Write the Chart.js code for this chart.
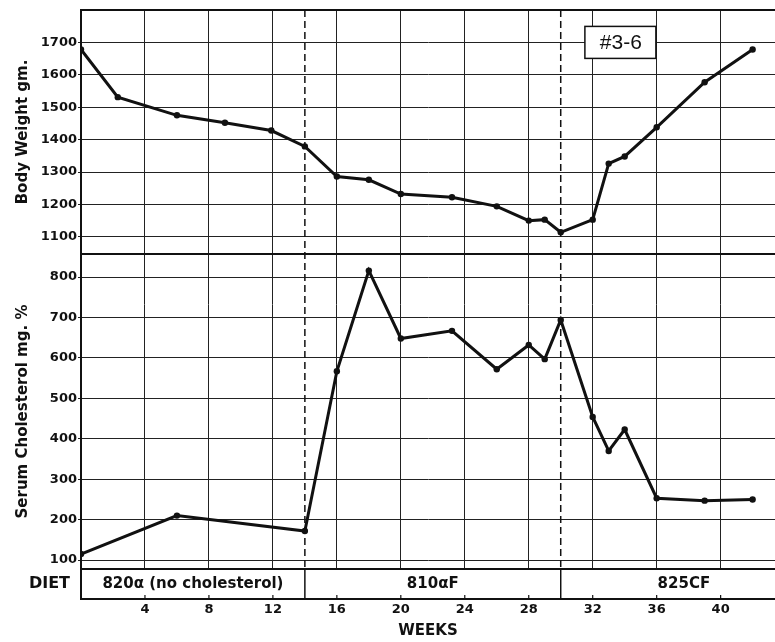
<!DOCTYPE html>
<html>
<head>
<meta charset="utf-8">
<script src="https://cdn.jsdelivr.net/npm/chart.js@4.4.0/dist/chart.umd.min.js"></script>
<style>
  html, body { margin: 0; padding: 0; background: #fff; }
  #wrap { width: 775px; height: 642px; }
</style>
</head>
<body>
<div id="wrap"><canvas id="chart-weight-cholesterol" width="775" height="642"></canvas></div>
<script>
// data (weeks on x)
const weightWeeks = [0, 2.3, 6, 9, 11.9, 14, 16, 18, 20, 23.2, 26, 28, 29, 30, 32, 33, 34, 36, 39, 42];
const weightValues = [1678, 1531, 1475, 1452, 1428, 1379, 1286, 1276, 1232, 1222, 1194, 1150, 1153, 1114, 1153, 1326, 1348, 1438, 1577, 1678];

const cholWeeks = [0, 6, 14, 16, 18, 20, 23.2, 26, 28, 29, 30, 32, 33, 34, 36, 39, 42];
const cholValues = [115, 210, 172, 567, 816, 648, 667, 572, 632, 597, 694, 454, 370, 423, 253, 247, 250];

const weekTicks = [4, 8, 12, 16, 20, 24, 28, 32, 36, 40];
const weightTicks = [1100, 1200, 1300, 1400, 1500, 1600, 1700];
const cholTicks = [100, 200, 300, 400, 500, 600, 700, 800];

// diet periods
const dietNames = ["820α (no cholesterol)", "810αF", "825CF"];
const dietStart = [0, 14, 30];
const dietEnd = [14, 30, 45.4];

const animalLabel = "#3-6";

Chart.defaults.font.family = "'DejaVu Sans', sans-serif";
Chart.defaults.color = "#111";

const ink = "#111";
const gridInk = "#222";

function toPoints(xs, ys) {
  return xs.map((w, i) => ({ x: w, y: ys[i] }));
}

function line(ctx, x1, y1, x2, y2) {
  ctx.beginPath();
  ctx.moveTo(x1, y1);
  ctx.lineTo(x2, y2);
  ctx.stroke();
}

// no extra label padding, the panels fill the canvas
function noPad(s) {
  s.paddingTop = 0;
  s.paddingBottom = 0;
  s.paddingLeft = 0;
  s.paddingRight = 0;
}

// frames, dashed diet changes, diet band and the animal number
const panelPlugin = {
  id: "panelPlugin",
  beforeDatasetsDraw(chart) {
    const { ctx, chartArea, scales } = chart;
    const x = scales.x, yW = scales.yW, yC = scales.yC, yD = scales.yD;
    ctx.save();

    // clear the grid out of the diet band
    ctx.fillStyle = "#fff";
    ctx.fillRect(chartArea.left + 1, yD.top, chartArea.right - chartArea.left, yD.bottom - yD.top);

    ctx.strokeStyle = ink;
    ctx.lineWidth = 2;
    [yW.top, yW.bottom, yC.bottom, yD.bottom].forEach((py) => {
      line(ctx, chartArea.left, py, chartArea.right, py);
    });

    // small ticks on the diet band
    ctx.lineWidth = 1.2;
    weekTicks.forEach((w) => {
      const px = x.getPixelForValue(w);
      line(ctx, px, yD.bottom, px, yD.bottom - 4);
    });

    // diet change lines
    ctx.lineWidth = 1.5;
    dietStart.slice(1).forEach((w) => {
      const px = x.getPixelForValue(w);
      ctx.setLineDash([7, 4]);
      line(ctx, px, yW.top, px, yC.bottom);
      ctx.setLineDash([]);
      line(ctx, px, yD.top, px, yD.bottom);
    });

    // diet names
    ctx.fillStyle = ink;
    ctx.font = "bold 15px 'DejaVu Sans'";
    ctx.textAlign = "center";
    ctx.textBaseline = "middle";
    const midY = yD.getPixelForValue(0.5);
    dietNames.forEach((name, i) => {
      const px = x.getPixelForValue((dietStart[i] + dietEnd[i]) / 2);
      ctx.fillText(name, px, midY);
    });

    // animal number box
    const bx = x.getPixelForValue(33.7);
    const by = yW.getPixelForValue(1700);
    ctx.fillStyle = "#fff";
    ctx.fillRect(bx - 35, by - 16, 71, 32);
    ctx.lineWidth = 1.5;
    ctx.strokeRect(bx - 35, by - 16, 71, 32);
    ctx.fillStyle = ink;
    ctx.font = "21px 'Liberation Sans'";
    ctx.fillText(animalLabel, bx + 1, by + 1);

    ctx.restore();
  },
};

const tickFont = { size: 13, weight: "bold" };
const titleFont = { size: 15, weight: "bold" };

const ctx = document.getElementById("chart-weight-cholesterol").getContext("2d");
const chart = new Chart(ctx, {
  type: "line",
  data: {
    datasets: [
      {
        label: "Body Weight gm.",
        data: toPoints(weightWeeks, weightValues),
        xAxisID: "x",
        yAxisID: "yW",
        borderColor: ink,
        backgroundColor: ink,
        borderWidth: 3,
        pointRadius: 3.2,
        pointBorderWidth: 0,
        tension: 0,
      },
      {
        label: "Serum Cholesterol mg. %",
        data: toPoints(cholWeeks, cholValues),
        xAxisID: "x",
        yAxisID: "yC",
        borderColor: ink,
        backgroundColor: ink,
        borderWidth: 3,
        pointRadius: 3.2,
        pointBorderWidth: 0,
        tension: 0,
      },
    ],
  },
  options: {
    responsive: false,
    animation: false,
    devicePixelRatio: 1,
    layout: { autoPadding: false, padding: { top: 10, left: 0, right: 0, bottom: 0 } },
    plugins: {
      legend: { display: false },
      tooltip: { enabled: false },
    },
    scales: {
      x: {
        type: "linear",
        min: 0,
        max: 43.4,
        afterBuildTicks: (s) => { s.ticks = weekTicks.map((v) => ({ value: v })); },
        afterFit: (s) => { s.height = 43; noPad(s); },
        ticks: { font: tickFont, padding: 3, maxRotation: 0, autoSkip: false, callback: (v) => String(v) },
        grid: { color: gridInk, lineWidth: 1, drawTicks: false },
        border: { display: false },
        title: { display: true, text: "WEEKS", font: { size: 15, weight: "bold" }, padding: { top: 0, bottom: 2 } },
      },
      yD: {
        type: "linear",
        position: "left",
        stack: "panels",
        stackWeight: 30,
        min: 0,
        max: 1,
        afterBuildTicks: (s) => { s.ticks = [{ value: 0.5 }]; },
        afterFit: (s) => { s.width = 81; noPad(s); },
        ticks: { font: { size: 16, weight: "bold" }, padding: 11, callback: () => "DIET" },
        grid: { display: false, drawTicks: false },
        border: { display: true, color: ink, width: 2 },
      },
      yC: {
        type: "linear",
        position: "left",
        stack: "panels",
        stackWeight: 315,
        min: 78,
        max: 857,
        afterBuildTicks: (s) => { s.ticks = cholTicks.map((v) => ({ value: v })); },
        afterFit: (s) => { s.width = 81; noPad(s); },
        ticks: { font: tickFont, padding: 1, callback: (v) => String(v) },
        grid: { color: gridInk, lineWidth: 1, tickLength: 3 },
        border: { display: true, color: ink, width: 2 },
        title: { display: true, text: "Serum Cholesterol mg. %", font: titleFont, padding: { top: 14, bottom: 0 } },
      },
      yW: {
        type: "linear",
        position: "left",
        stack: "panels",
        stackWeight: 244,
        min: 1047,
        max: 1800,
        afterBuildTicks: (s) => { s.ticks = weightTicks.map((v) => ({ value: v })); },
        afterFit: (s) => { s.width = 81; noPad(s); },
        ticks: { font: tickFont, padding: 1, callback: (v) => String(v) },
        grid: { color: gridInk, lineWidth: 1, tickLength: 3 },
        border: { display: true, color: ink, width: 2 },
        title: { display: true, text: "Body Weight gm.", font: titleFont, padding: { top: 14, bottom: 0 } },
      },
    },
  },
  plugins: [panelPlugin],
});
</script>
</body>
</html>
